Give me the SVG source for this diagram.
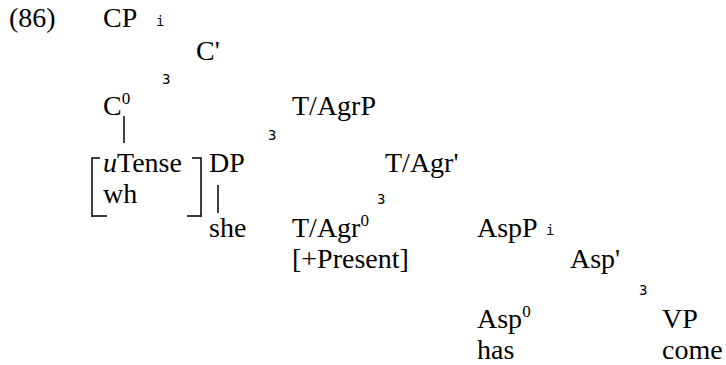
<svg xmlns="http://www.w3.org/2000/svg" width="726" height="365" viewBox="0 0 726 365">
  <style>
    text { fill: #000; }
    .t { font-family: 'Liberation Serif', 'Times New Roman', Times, serif; font-size: 28px; }
    .sup { font-size: 17px; }
    .g { font-family: 'DejaVu Sans Mono', 'Liberation Mono', monospace; font-size: 14px; }
    .ln { stroke: #000; stroke-width: 1.5; fill: none; }
  </style>
  <rect width="726" height="365" fill="#fff"/>

  <text class="t" x="9" y="27">(86)</text>

  <g id="CP"><text class="t" x="103" y="27">CP</text><text class="g" x="156" y="26">i</text></g>
  <g id="Cbar"><text class="t" x="196" y="60">C'</text><text class="g" x="162" y="84">3</text></g>
  <g id="C0"><text class="t" x="103" y="115">C<tspan class="sup" dy="-11">0</tspan></text></g>
  <g id="TAgrP"><text class="t" x="292" y="115">T/AgrP</text><text class="g" x="268" y="140">3</text></g>

  <g id="features">
    <text class="t" x="103" y="172"><tspan font-style="italic">u</tspan>Tense</text>
    <text class="t" x="103" y="203">wh</text>
  </g>
  <g id="DP"><text class="t" x="209" y="172">DP</text></g>
  <g id="TAgrBar"><text class="t" x="385" y="172">T/Agr'</text><text class="g" x="377" y="204">3</text></g>
  <g id="she"><text class="t" x="209" y="237">she</text></g>
  <g id="TAgr0">
    <text class="t" x="292" y="237">T/Agr<tspan class="sup" dy="-11">0</tspan></text>
    <text class="t" x="292" y="268">[+Present]</text>
  </g>
  <g id="AspP"><text class="t" x="477" y="237">AspP</text><text class="g" x="546" y="235">i</text></g>
  <g id="AspBar"><text class="t" x="570" y="268">Asp'</text><text class="g" x="639" y="295">3</text></g>
  <g id="Asp0">
    <text class="t" x="477" y="328">Asp<tspan class="sup" dy="-11">0</tspan></text>
    <text class="t" x="477" y="359">has</text>
  </g>
  <g id="VP">
    <text class="t" x="662" y="328">VP</text>
    <text class="t" x="662" y="359">come</text>
  </g>

  <g id="connectors">
    <line class="ln" x1="124" y1="116" x2="124" y2="143"/>
    <line class="ln" x1="218" y1="185" x2="218" y2="213"/>
    <!-- feature matrix brackets -->
    <path class="ln" d="M100 158 H92 V217 M92 216 H107"/>
    <path class="ln" d="M192 158 H201 V217 M201 216 H187"/>
  </g>
</svg>
